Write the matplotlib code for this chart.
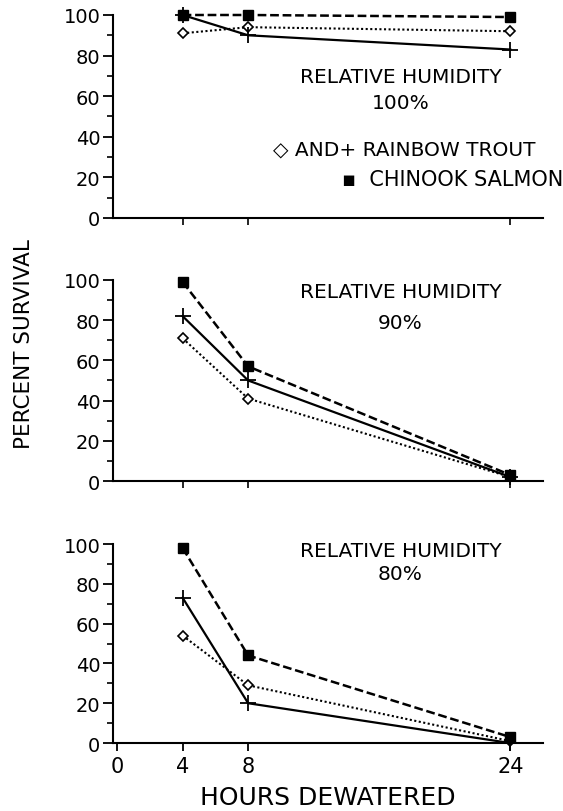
import matplotlib.pyplot as plt
from matplotlib.ticker import MultipleLocator

hours = [4, 8, 24]
humidity = ["100%", "90%", "80%"]

chinook = [[100, 100, 99], [99, 57, 3], [98, 44, 3]]
trout_plus = [[100, 90, 83], [82, 50, 2], [73, 20, 0]]
trout_diamond = [[91, 94, 92], [71, 41, 2], [54, 29, 1]]

xticks = [0, 4, 8, 24]

plt.rcParams['font.family'] = ['DejaVu Sans']

fig = plt.figure(figsize=(5.63, 8.12), dpi=100)

# axes boxes (left, bottom, width, height) in figure fractions
boxes = [(0.2007, 0.7303, 0.7638, 0.2500),
         (0.2007, 0.4064, 0.7638, 0.2476),
         (0.2007, 0.0837, 0.7638, 0.2451)]
# humidity caption: x, y of first line, y of second line (data coords)
rh_x = 17.3
rh_y1 = [69.5, 94.5, 96.5]
rh_y2 = [57, 79, 85]

for i in range(3):
    ax = fig.add_axes(boxes[i])
    ax.plot(hours, trout_diamond[i], ls=(0, (1, 1.2)), lw=1.5, color='black',
            marker='D', ms=5, mfc='white', mec='black', mew=1.2, clip_on=False, zorder=3)
    ax.plot(hours, trout_plus[i], ls='-', lw=1.6, color='black',
            marker='+', ms=11, mew=1.3, clip_on=False, zorder=4)
    ax.plot(hours, chinook[i], ls=(0, (3.5, 1.5)), lw=1.8, color='black',
            marker='s', ms=7, mfc='black', mec='black', clip_on=False, zorder=5)

    ax.set_xlim(-0.25, 26)
    ax.set_ylim(0, 100)
    ax.spines['top'].set_visible(False)
    ax.spines['right'].set_visible(False)
    ax.spines['left'].set_linewidth(1.5)
    ax.spines['bottom'].set_linewidth(1.5)
    ax.yaxis.set_major_locator(MultipleLocator(20))
    ax.yaxis.set_minor_locator(MultipleLocator(10))
    ax.tick_params(axis='y', which='major', length=7, width=1.3, labelsize=14, pad=2)
    ax.tick_params(axis='y', which='minor', length=4, width=1.2)
    if i == 2:
        ax.set_xticks(xticks)
        ax.tick_params(axis='x', length=6, width=1.3, labelsize=15, pad=3)
        ax.set_xlabel("HOURS DEWATERED", fontsize=18, labelpad=7)
    else:
        ax.set_xticks(hours)
        ax.set_xticklabels([])
        ax.tick_params(axis='x', length=5, width=1.2)

    ax.text(rh_x, rh_y1[i], "RELATIVE HUMIDITY", ha='center', va='center', fontsize=14.5)
    ax.text(rh_x, rh_y2[i], humidity[i], ha='center', va='center', fontsize=14.5)

    if i == 0:
        ax.text(9.5, 34, "\u25c7 AND+ RAINBOW TROUT", ha='left', va='center',
                fontsize=14.5, clip_on=False)
        ax.text(13.7, 19, "\u25aa  CHINOOK SALMON", ha='left', va='center',
                fontsize=15, clip_on=False)

fig.text(0.042, 0.576, "PERCENT SURVIVAL", rotation=90, ha='center', va='center',
         fontsize=15.5)

fig.savefig("out.png", dpi=100, facecolor='white')
